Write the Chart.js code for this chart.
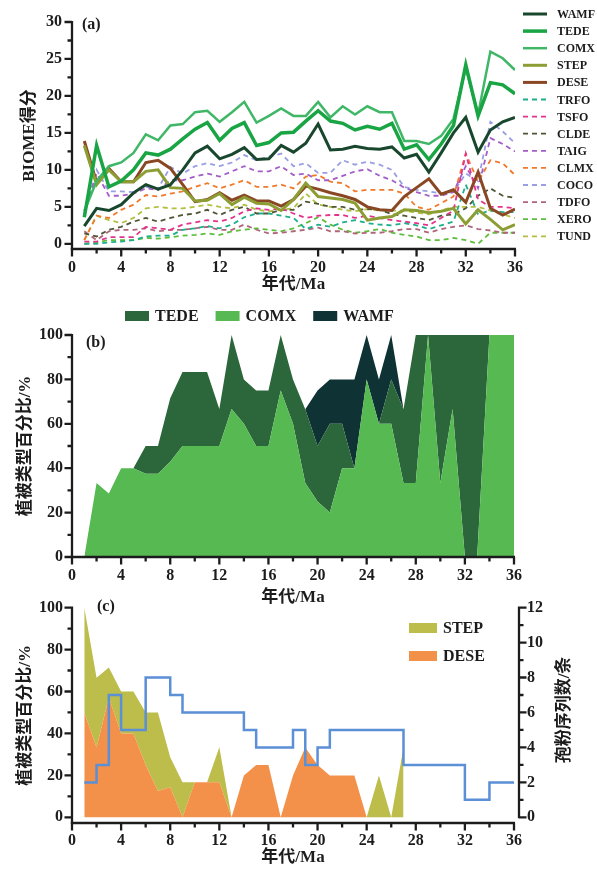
<!DOCTYPE html>
<html>
<head>
<meta charset="utf-8">
<script src="https://cdn.jsdelivr.net/npm/chart.js@4.4.1/dist/chart.umd.min.js"></script>
<style>
html, body { margin: 0; padding: 0; background: #fff; }
#wrap { position: relative; width: 597px; height: 873px; overflow: hidden; }
#wrap canvas { position: absolute; left: 0; }
</style>
</head>
<body>
<div id="wrap">
    <canvas id="chart-a" width="597" height="298" style="top:0px"></canvas>
    <canvas id="chart-b" width="597" height="315" style="top:295px"></canvas>
    <canvas id="chart-c" width="597" height="288" style="top:585px"></canvas>
</div>
<script>
// Age in Ma (x axis, shared by all panels)
const ages = [1, 2, 3, 4, 5, 6, 7, 8, 9, 10, 11, 12, 13, 14, 15, 16, 17, 18,
    19, 20, 21, 22, 23, 24, 25, 26, 27, 28, 29, 30, 31, 32, 33, 34, 35, 36];

// (a) BIOME scores
const wamf = [2.4, 4.8, 4.5, 5.3, 6.9, 8.0, 7.4, 8.0, 10.0, 12.3, 13.2, 11.5, 12.1, 13.0, 11.4, 11.5, 13.3, 12.4,
    13.6, 16.2, 12.7, 12.8, 13.2, 12.9, 12.8, 13.1, 11.6, 12.1, 9.7, 12.3, 15.0, 17.1, 12.4, 15.4, 16.5, 17.1];
const tede = [3.6, 13.3, 7.7, 8.5, 10.0, 12.3, 12.0, 12.8, 14.2, 15.5, 16.4, 14.0, 15.6, 16.4, 13.3, 13.7, 15.0, 15.1,
    16.6, 18.0, 16.6, 16.3, 15.4, 15.9, 15.5, 16.3, 12.8, 13.4, 11.4, 13.5, 16.0, 24.2, 17.3, 21.8, 21.5, 20.3];
const comx = [4.4, 8.5, 10.5, 11.0, 12.3, 14.8, 14.0, 16.0, 16.2, 17.8, 18.0, 16.5, 17.8, 19.2, 16.4, 17.3, 18.3, 17.3,
    17.3, 19.2, 17.1, 18.6, 17.5, 18.6, 17.8, 17.8, 13.9, 13.9, 13.5, 14.6, 16.9, 23.8, 17.5, 26.0, 25.1, 23.5];
const step = [13.3, 8.0, 10.0, 8.4, 8.4, 9.8, 10.0, 7.6, 7.5, 5.8, 5.9, 6.8, 5.3, 6.3, 5.5, 5.4, 4.5, 6.0,
    8.2, 6.4, 6.2, 6.0, 5.5, 3.2, 3.5, 3.7, 4.6, 4.5, 4.2, 4.4, 4.8, 2.7, 4.6, 3.3, 1.9, 2.6];
const dese = [13.9, 8.3, 10.2, 8.4, 8.4, 11.0, 11.3, 10.2, 8.0, 5.7, 6.0, 6.9, 5.9, 6.6, 5.8, 5.8, 5.1, 6.0,
    7.8, 7.4, 6.9, 6.5, 6.0, 5.0, 4.6, 4.5, 6.4, 7.6, 8.8, 6.7, 7.3, 5.6, 9.7, 4.8, 3.9, 4.7];
const trfo = [0, 0, 0.2, 0.3, 0.5, 1.0, 1.1, 1.1, 1.9, 2.1, 2.4, 2.1, 2.6, 3.6, 4.1, 4.1, 3.8, 3.5,
    2.0, 2.6, 2.3, 2.9, 3.2, 2.8, 2.6, 2.5, 2.8, 2.5, 2.0, 2.5, 3.0, 8.0, 4.0, 4.5, 4.3, 4.3];
const tsfo = [0.3, 0.3, 0.9, 0.9, 0.9, 2.3, 2.1, 1.9, 2.6, 2.9, 3.2, 3.0, 3.5, 4.4, 4.8, 4.6, 4.8, 4.1,
    3.5, 3.8, 3.9, 3.9, 3.5, 3.8, 3.5, 3.2, 3.0, 2.8, 2.5, 3.5, 4.5, 12.2, 6.0, 5.0, 5.0, 4.8];
const clde = [1.4, 1.0, 1.9, 2.3, 3.0, 3.5, 3.0, 3.5, 3.9, 4.1, 4.6, 3.9, 4.6, 5.0, 4.1, 4.1, 4.6, 4.6,
    5.7, 5.4, 5.0, 5.0, 4.6, 4.7, 4.6, 4.0, 3.8, 3.5, 3.2, 3.8, 4.0, 4.8, 6.5, 7.5, 6.5, 6.2];
const taig = [4.1, 9.5, 6.5, 6.5, 6.8, 7.5, 7.3, 8.6, 8.6, 9.1, 9.5, 9.1, 9.8, 10.5, 9.8, 9.8, 10.5, 9.3,
    9.5, 8.6, 8.6, 9.2, 9.8, 10.1, 9.2, 8.6, 7.6, 7.0, 6.5, 6.5, 7.0, 10.5, 7.5, 14.3, 13.5, 12.5];
const clmx = [0.5, 3.8, 3.5, 4.6, 5.3, 6.6, 6.4, 6.8, 7.1, 7.7, 8.2, 7.5, 8.0, 8.6, 7.7, 7.7, 8.0, 7.5,
    9.1, 9.3, 8.4, 8.2, 7.1, 7.3, 7.3, 7.3, 6.8, 5.0, 4.6, 5.5, 6.4, 12.2, 8.4, 11.3, 10.9, 9.3];
const coco = [4.1, 10.0, 7.1, 7.1, 7.0, 7.7, 7.5, 10.4, 9.5, 10.5, 10.9, 10.5, 11.0, 12.0, 11.3, 11.8, 12.2, 10.5,
    10.9, 9.6, 9.6, 11.3, 10.7, 11.1, 10.7, 10.0, 7.7, 7.3, 7.1, 6.8, 7.0, 9.5, 8.5, 16.5, 15.2, 13.6];
const tdfo = [1.7, 0.5, 1.7, 1.9, 1.9, 2.1, 1.7, 1.9, 1.9, 2.1, 2.3, 1.9, 1.9, 2.6, 1.9, 1.4, 1.5, 1.7,
    1.9, 2.2, 1.7, 1.7, 1.4, 1.5, 1.5, 1.7, 2.0, 2.0, 1.5, 2.0, 2.3, 2.5, 2.0, 1.8, 1.5, 1.5];
const xero = [0, 0.2, 0.5, 0.5, 0.5, 0.8, 0.7, 0.9, 1.1, 1.2, 1.4, 1.2, 1.7, 1.9, 2.1, 1.9, 1.7, 2.1,
    2.8, 3.6, 2.6, 1.9, 1.5, 1.7, 2.0, 1.5, 1.2, 1.0, 0.5, 0.5, 0.8, 0.5, 0.0, 1.5, 1.5, 1.5];
const tund = [0.5, 3.8, 3.2, 2.8, 3.5, 4.8, 5.0, 4.8, 4.8, 5.0, 5.3, 5.0, 4.8, 5.3, 4.6, 4.4, 4.6, 4.8,
    6.8, 5.3, 5.0, 4.6, 4.4, 4.7, 4.5, 4.5, 4.5, 4.2, 4.0, 4.5, 5.0, 5.0, 5.0, 4.5, 4.0, 3.5];

// (b) forest biome share, %
const comxPct = [0, 33.3, 28.6, 40, 40, 37.5, 37.5, 42.9, 50, 50, 50, 50, 66.7, 60, 50, 50, 75, 60,
    33.3, 25, 20, 40, 40, 80, 60, 60, 33.3, 33.3, 100, 33.3, 66.7, 0, 0, 100, 100, 100];
const tedePct = [0, 0, 0, 0, 0, 12.5, 12.5, 28.6, 33.3, 33.3, 33.3, 16.7, 33.3, 20, 25, 25, 25, 20,
    33.3, 25, 40, 20, 0, 0, 0, 20, 33.3, 66.7, 0, 66.7, 33.3, 100, 100, 0, 0, 0];
const wamfPct = [0, 0, 0, 0, 0, 0, 0, 0, 0, 0, 0, 0, 0, 0, 0, 0, 0, 0,
    0, 25, 20, 20, 40, 20, 20, 20, 0, 0, 0, 0, 0, 0, 0, 0, 0, 0];

// (c) steppe / desert share, % (1-27 Ma) and number of pollen records
const desePct = [50, 33.3, 57.1, 40, 40, 25, 12.5, 14.3, 0, 16.7, 16.7, 16.7, 0, 20, 25, 25, 0, 20,
    33.3, 25, 20, 20, 20, 0, 0, 0, 0];
const stepPct = [50, 33.3, 14.3, 20, 20, 25, 37.5, 14.3, 16.7, 0, 0, 16.7, 0, 0, 0, 0, 0, 0,
    0, 0, 0, 0, 0, 0, 20, 0, 33.3];
const recordCount = [2, 3, 7, 5, 5, 8, 8, 7, 6, 6, 6, 6, 6, 5, 4, 4, 4, 5,
    3, 4, 5, 5, 5, 5, 5, 5, 3, 3, 3, 3, 3, 1, 1, 2, 2, 2];

const SERIF = '"Liberation Serif", "Noto Sans CJK SC", serif';
const INK = '#1c1c1c';
const tickFont = { family: SERIF, size: 16, weight: 'bold' };
const titleFont = { family: SERIF, size: 17, weight: 'bold' };

// axes, legends and panel letters
const decor = {
    id: 'decor',
    afterDraw(chart, args, opts) {
        const ctx = chart.ctx;
        const area = chart.chartArea;
        ctx.save();
        ctx.strokeStyle = INK;
        ctx.fillStyle = INK;

        (opts.axes || []).forEach(ax => {
            const s = chart.scales[ax.id];
            const isMajor = v => Math.abs(v / ax.major - Math.round(v / ax.major)) < 1e-6;
            ctx.lineWidth = 2.3;
            ctx.setLineDash([]);
            ctx.beginPath();
            if (ax.side === 'bottom') {
                const y = area.bottom;
                ctx.moveTo(s.getPixelForValue(s.min) - 1.2, y);
                ctx.lineTo(s.getPixelForValue(s.max) + 1, y);
                for (let v = s.min; v <= s.max + 1e-6; v += ax.minor) {
                    const px = s.getPixelForValue(v);
                    ctx.moveTo(px, y);
                    ctx.lineTo(px, y + (isMajor(v) ? 7.5 : 4.5));
                }
            } else {
                const left = ax.side === 'left';
                const x = left ? area.left : area.right + (ax.offset || 0);
                const dir = left ? -1 : 1;
                const bottom = left ? area.bottom + 1 : s.getPixelForValue(0) + 1;
                ctx.moveTo(x, bottom);
                ctx.lineTo(x, s.getPixelForValue(s.max) - 1);
                for (let v = 0; v <= s.max + 1e-6; v += ax.minor) {
                    const py = s.getPixelForValue(v);
                    ctx.moveTo(x, py);
                    ctx.lineTo(x + dir * (isMajor(v) ? 7.5 : 4.5), py);
                }
            }
            ctx.stroke();
        });

        const lg = opts.legend;
        if (lg) {
            ctx.font = `bold ${lg.size}px ${SERIF}`;
            ctx.textAlign = 'left';
            ctx.textBaseline = 'middle';
            let x = lg.x, y = lg.y;
            lg.order.forEach(i => {
                const ds = chart.data.datasets[i];
                if (lg.kind === 'line') {
                    ctx.strokeStyle = ds.borderColor;
                    ctx.lineWidth = ds.borderWidth;
                    ctx.setLineDash(ds.borderDash || []);
                    ctx.beginPath();
                    ctx.moveTo(x, y);
                    ctx.lineTo(x + lg.w, y);
                    ctx.stroke();
                } else {
                    ctx.fillStyle = ds.backgroundColor;
                    ctx.fillRect(x, y - lg.h / 2, lg.w, lg.h);
                }
                ctx.fillStyle = INK;
                ctx.fillText(ds.label, x + lg.w + lg.gap, y + 1);
                if (lg.row) {
                    x += lg.w + lg.gap + ctx.measureText(ds.label).width + lg.space;
                } else {
                    y += lg.step;
                }
            });
        }

        (opts.texts || []).forEach(t => {
            ctx.save();
            ctx.translate(t.x, t.y);
            ctx.rotate(t.rot || 0);
            ctx.font = `bold ${t.size}px ${SERIF}`;
            ctx.fillStyle = INK;
            ctx.textAlign = t.align || 'left';
            ctx.textBaseline = 'middle';
            ctx.fillText(t.text, 0, 0);
            ctx.restore();
        });
        ctx.restore();
    }
};

function xAxis(tickPad, titlePad, height) {
    return {
        type: 'linear', min: 0, max: 36,
        grid: { display: false, drawTicks: false },
        border: { display: false },
        ticks: { stepSize: 4, autoSkip: false, maxRotation: 0, padding: tickPad, color: INK, font: tickFont },
        title: { display: true, text: '年代/Ma', color: INK, font: titleFont, padding: { top: 0, bottom: titlePad } },
        afterFit: s => { s.height = height; }
    };
}

function yAxis(min, max, stepSize, tickPad, title, titlePad, width) {
    return {
        type: 'linear', min: min, max: max,
        grid: { display: false, drawTicks: false },
        border: { display: false },
        ticks: { stepSize: stepSize, includeBounds: false, padding: tickPad, color: INK, font: tickFont },
        title: { display: !!title, text: title, color: INK, font: titleFont, padding: { top: titlePad, bottom: 0 } },
        afterFit: s => { s.width = width; }
    };
}

const baseOptions = {
    responsive: false,
    animation: false,
    devicePixelRatio: 1,
    elements: { point: { radius: 0, hoverRadius: 0 }, line: { tension: 0 } },
    events: []
};

function biomeLine(label, data, color, width, dashed) {
    return {
        label: label, data: data, borderColor: color, backgroundColor: color,
        borderWidth: width, borderDash: dashed ? [5, 4] : [], fill: false
    };
}

// (a)
new Chart(document.getElementById('chart-a'), {
    type: 'line',
    data: {
        labels: ages,
        datasets: [
            biomeLine('WAMF', wamf, '#18472d', 3, false),
            biomeLine('TEDE', tede, '#19a544', 3.5, false),
            biomeLine('COMX', comx, '#3fb767', 2.5, false),
            biomeLine('STEP', step, '#8c9e33', 3, false),
            biomeLine('DESE', dese, '#8a4724', 3, false),
            biomeLine('TRFO', trfo, '#1fae8c', 1.8, true),
            biomeLine('TSFO', tsfo, '#e4338c', 1.8, true),
            biomeLine('CLDE', clde, '#4f5636', 1.8, true),
            biomeLine('TAIG', taig, '#a45dc6', 1.8, true),
            biomeLine('CLMX', clmx, '#f07a2a', 1.8, true),
            biomeLine('COCO', coco, '#9a9ee2', 1.8, true),
            biomeLine('TDFO', tdfo, '#b0667a', 1.8, true),
            biomeLine('XERO', xero, '#5cbf3c', 1.8, true),
            biomeLine('TUND', tund, '#b3bf3f', 1.8, true)
        ]
    },
    options: {
        ...baseOptions,
        layout: { padding: { top: 22, right: 82, left: 0, bottom: 0 } },
        scales: {
            x: xAxis(9, 3, 49),
            y: yAxis(-0.7, 30, 5, 10, 'BIOME得分', 19, 72)
        },
        plugins: {
            legend: { display: false },
            tooltip: { enabled: false },
            decor: {
                axes: [
                    { id: 'x', side: 'bottom', major: 4, minor: 2 },
                    { id: 'y', side: 'left', major: 5, minor: 2.5 }
                ],
                legend: { kind: 'line', x: 523, y: 14, w: 24, gap: 10, step: 17.1, size: 12,
                    order: [0, 1, 2, 3, 4, 5, 6, 7, 8, 9, 10, 11, 12, 13] },
                texts: [{ text: '(a)', x: 82, y: 25, size: 16 }]
            }
        }
    },
    plugins: [decor]
});

// (b)
new Chart(document.getElementById('chart-b'), {
    type: 'line',
    data: {
        labels: ages,
        datasets: [
            { label: 'COMX', data: comxPct, backgroundColor: '#57b952', borderColor: 'transparent', borderWidth: 0, fill: 'origin' },
            { label: 'TEDE', data: tedePct, backgroundColor: '#2b673b', borderColor: 'transparent', borderWidth: 0, fill: '-1' },
            { label: 'WAMF', data: wamfPct, backgroundColor: '#0f3334', borderColor: 'transparent', borderWidth: 0, fill: '-1' }
        ]
    },
    options: {
        ...baseOptions,
        layout: { padding: { top: 40, right: 83, left: 0, bottom: 0 } },
        scales: {
            x: xAxis(9, 2, 53),
            y: { ...yAxis(0, 100, 20, 9, '植被类型百分比/%', 15, 72), stacked: true }
        },
        plugins: {
            legend: { display: false },
            tooltip: { enabled: false },
            decor: {
                axes: [
                    { id: 'x', side: 'bottom', major: 4, minor: 2 },
                    { id: 'y', side: 'left', major: 20, minor: 10 }
                ],
                legend: { kind: 'box', row: true, x: 125, y: 21, w: 24, h: 10, gap: 6, space: 17, size: 16,
                    order: [1, 0, 2] },
                texts: [{ text: '(b)', x: 86, y: 48, size: 16 }]
            }
        }
    },
    plugins: [decor]
});

// (c)
new Chart(document.getElementById('chart-c'), {
    type: 'line',
    data: {
        labels: ages,
        datasets: [
            { label: 'Records', data: recordCount, yAxisID: 'y2', borderColor: '#5b8fd6', backgroundColor: '#5b8fd6',
                borderWidth: 2.5, stepped: 'before', fill: false },
            { label: 'DESE', data: desePct, yAxisID: 'y', backgroundColor: '#f3914a', borderColor: 'transparent', borderWidth: 0, fill: 'origin' },
            { label: 'STEP', data: stepPct, yAxisID: 'y', backgroundColor: '#bcbd4a', borderColor: 'transparent', borderWidth: 0, fill: '-1' }
        ]
    },
    options: {
        ...baseOptions,
        layout: { padding: { top: 11, right: 0, left: 0, bottom: 0 } },
        scales: {
            x: xAxis(8, 5, 50),
            y: { ...yAxis(-2.7, 100, 20, 9, '植被类型百分比/%', 15, 72), stacked: true },
            y2: { ...yAxis(-0.324, 12, 2, 13, '', 0, 83), position: 'right', stacked: false }
        },
        plugins: {
            legend: { display: false },
            tooltip: { enabled: false },
            decor: {
                axes: [
                    { id: 'x', side: 'bottom', major: 4, minor: 2 },
                    { id: 'y', side: 'left', major: 20, minor: 10 },
                    { id: 'y2', side: 'right', major: 2, minor: 1, offset: 5 }
                ],
                legend: { kind: 'box', x: 409, y: 43, w: 28, h: 10, gap: 6, step: 28, size: 16,
                    order: [2, 1] },
                texts: [
                    { text: '(c)', x: 97, y: 22, size: 16 },
                    { text: '孢粉序列数/条', x: 565, y: 125, size: 17, align: 'center', rot: -Math.PI / 2 }
                ]
            }
        }
    },
    plugins: [decor]
});
</script>
</body>
</html>
